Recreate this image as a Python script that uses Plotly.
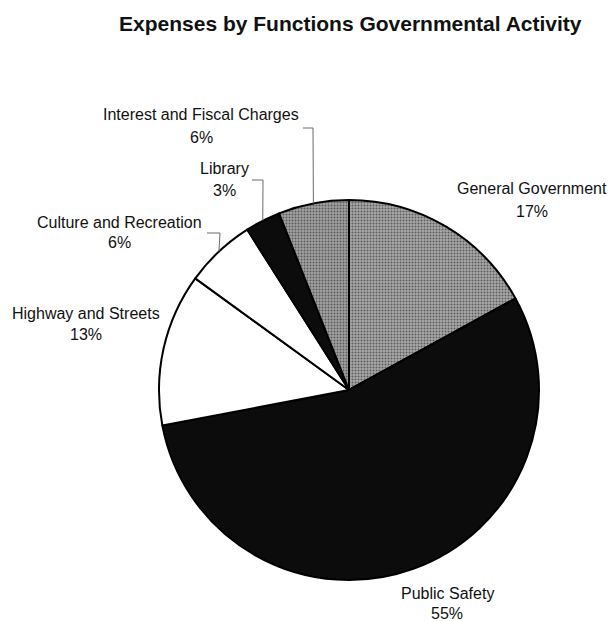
import plotly.graph_objects as go
import math

# Expense shares by governmental function (percent of total)
categories = [
    "General Government",
    "Public Safety",
    "Highway and Streets",
    "Culture and Recreation",
    "Library",
    "Interest and Fiscal Charges",
]
shares = [17, 55, 13, 6, 3, 6]
slice_colors = ["#a8a8a8", "#0c0c0c", "#ffffff", "#ffffff", "#0c0c0c", "#a2a2a2"]
slice_patterns = [".", "", "", "", "", "."]

W, H = 611, 621
# pie geometry in pixels
CX, CY, R = 349, 390, 190

def px_x(x):
    return x / W

def px_y(y):
    return 1 - y / H

fig = go.Figure()
fig.add_trace(go.Pie(
    labels=categories,
    values=shares,
    sort=False,
    direction="clockwise",
    rotation=0,
    textinfo="none",
    hoverinfo="label+percent",
    showlegend=False,
    marker=dict(
        colors=slice_colors,
        line=dict(color="#000000", width=2),
        pattern=dict(shape=slice_patterns, fgcolor="#5c5c5c",
                     bgcolor=slice_colors, size=3, solidity=0.35),
    ),
    domain=dict(x=[px_x(CX - R), px_x(CX + R)], y=[px_y(CY + R), px_y(CY - R)]),
))

# label placement (pixel anchors for name line / percent line)
label_pos = {
    "General Government": (532, 188, 212),
    "Public Safety": (447, 593, 613),
    "Highway and Streets": (86, 313, 335),
    "Culture and Recreation": (120, 222, 243),
    "Library": (224, 168, 190),
    "Interest and Fiscal Charges": (201, 115, 137),
}
# leader lines start at a short horizontal tick beside the label
leader_ticks = {
    "Interest and Fiscal Charges": (303, 313, 128),
    "Library": (252, 263, 180),
    "Culture and Recreation": (207, 220, 233),
}

total = sum(shares)
font = dict(family="Liberation Sans, Arial, sans-serif", size=16, color="#111111")
annotations = []
shapes = []
cum = 0
for name, v in zip(categories, shares):
    mid = (cum + v / 2) / total * 2 * math.pi
    cum += v
    lx, y1, y2 = label_pos[name]
    annotations.append(dict(text=name, x=px_x(lx), y=px_y(y1), xref="paper", yref="paper",
                            showarrow=False, font=font, xanchor="center", yanchor="middle"))
    annotations.append(dict(text=f"{v / total * 100:.0f}%", x=px_x(lx), y=px_y(y2),
                            xref="paper", yref="paper", showarrow=False, font=font,
                            xanchor="center", yanchor="middle"))
    if name in leader_ticks:
        x0, x1, ty = leader_ticks[name]
        ex = CX + R * math.sin(mid)
        ey = CY - R * math.cos(mid)
        path = (f"M {px_x(x0)} {px_y(ty)} L {px_x(x1)} {px_y(ty)} "
                f"L {px_x(ex)} {px_y(ey)}")
        shapes.append(dict(type="path", path=path, xref="paper", yref="paper",
                           line=dict(color="#6a6a6a", width=1)))

annotations.append(dict(
    text="<b>Expenses by Functions Governmental Activity</b>",
    x=px_x(350), y=px_y(24), xref="paper", yref="paper", showarrow=False,
    font=dict(family="Liberation Sans, Arial, sans-serif", size=21, color="#111111"),
    xanchor="center", yanchor="middle",
))

fig.update_layout(
    width=W, height=H,
    margin=dict(l=0, r=0, t=0, b=0),
    paper_bgcolor="#ffffff",
    plot_bgcolor="#ffffff",
    annotations=annotations,
    shapes=shapes,
)

fig.write_html("out.html")
